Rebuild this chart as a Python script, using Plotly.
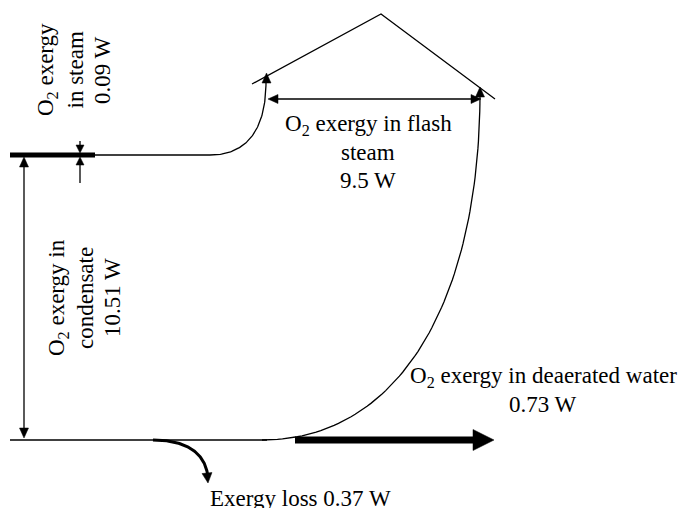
import numpy as np
import plotly.graph_objects as go

# ---------------- data (exergy flows, W) ----------------
flow_names = ["condensate", "steam", "flash steam", "deaerated water", "loss"]
flow_values = [10.51, 0.09, 9.5, 0.73, 0.37]
val = dict(zip(flow_names, flow_values))

O2 = "O<sub>2</sub>"
lbl_steam = [f"{O2} exergy", "in steam", f"{val['steam']} W"]
lbl_cond = [f"{O2} exergy in", "condensate", f"{val['condensate']} W"]
lbl_flash = [f"{O2} exergy in flash", "steam", f"{val['flash steam']} W"]
lbl_water = [f"{O2} exergy in deaerated water", f"{val['deaerated water']} W"]
lbl_loss = [f"Exergy loss {val['loss']} W"]

# ---------------- geometry (diagram layout, pixel-like units) ----------------
W, H = 687, 508
PAD = 8  # page body margin
FONT = dict(family="Liberation Serif, Times New Roman, serif", size=23, color="black")
LW = 1.3

fig = go.Figure()


def bez(p0, p1, p2, p3, n=80):
    t = np.linspace(0, 1, n)[:, None]
    p = ((1 - t) ** 3) * np.array(p0) + 3 * ((1 - t) ** 2) * t * np.array(p1) \
        + 3 * (1 - t) * t ** 2 * np.array(p2) + t ** 3 * np.array(p3)
    return p[:, 0], p[:, 1]


def line(xs, ys, w=LW):
    fig.add_trace(go.Scatter(x=list(xs), y=list(ys), mode="lines",
                             line=dict(color="black", width=w),
                             hoverinfo="skip", showlegend=False))


def head(tip, d, length=10, width=9):
    d = np.array(d, float)
    d /= np.linalg.norm(d)
    n = np.array([-d[1], d[0]])
    tip = np.array(tip, float)
    base = tip - d * length
    a = base + n * width / 2
    b = base - n * width / 2
    fig.add_trace(go.Scatter(x=[tip[0], a[0], b[0], tip[0]], y=[tip[1], a[1], b[1], tip[1]],
                             mode="lines", fill="toself", fillcolor="black",
                             line=dict(color="black", width=0.5),
                             hoverinfo="skip", showlegend=False))


# top inflow (steam + condensate) line and rising curve to flash steam
line([10, 210], [155, 155])
cx, cy = bez((210, 155), (245, 155), (266, 132), (266, 82))
line(cx, cy)
head((266.5, 73), (0, -1))
# thick steam segment
line([10, 95], [155, 155], w=5)

# bottom line and big curve
line([10, 267], [440, 440])
cx, cy = bez((262, 440), (400, 440), (479, 300), (480, 96))
line(cx, cy)
head((480, 87), (0, -1))

# roof
line([252, 381, 495], [84, 14, 99])

# flash steam width arrow
line([276, 472], [99, 99])
head((268, 99), (-1, 0))
head((481, 99), (1, 0))

# condensate vertical double arrow
line([24, 24], [165, 430])
head((24, 157), (0, -1))
head((24, 438), (0, 1))

# steam small arrows
line([80, 80], [141, 146])
head((80, 153), (0, 1), length=8, width=8)
line([80, 80], [164, 183])
head((80, 157), (0, -1), length=8, width=8)

# deaerated water thick arrow
line([295, 474], [440, 440], w=7)
head((494, 440), (1, 0), length=21, width=21)

# exergy loss curve
cx, cy = bez((153, 440), (185, 440), (204, 452), (207.5, 474))
line(cx, cy, w=3)
head((208, 483), (0.1, 1), length=10, width=10)

# ---------------- text ----------------
ann = []


def txt(x, y, s, angle=0):
    ann.append(dict(x=x, y=y, xref="x", yref="y", text=s, showarrow=False,
                    textangle=angle, font=FONT, xanchor="center", yanchor="middle"))


for i, s in enumerate(lbl_steam):
    txt(47 + 27.5 * i, 70, s, -90)
for i, s in enumerate(lbl_cond):
    txt(58 + 27 * i, 298, s, -90)
for i, s in enumerate(lbl_flash):
    txt(368, 125 + 27.5 * i, s)
for i, s in enumerate(lbl_water):
    txt(543, 377 + 27 * i, s)
txt(300, 498, lbl_loss[0])

fig.update_layout(
    width=W - PAD, height=H - PAD, margin=dict(l=0, r=0, t=0, b=0),
    paper_bgcolor="white", plot_bgcolor="white", showlegend=False,
    xaxis=dict(range=[PAD, W], visible=False, fixedrange=True),
    yaxis=dict(range=[H, PAD], visible=False, fixedrange=True),
    annotations=ann,
)
fig.write_html("out.html")
